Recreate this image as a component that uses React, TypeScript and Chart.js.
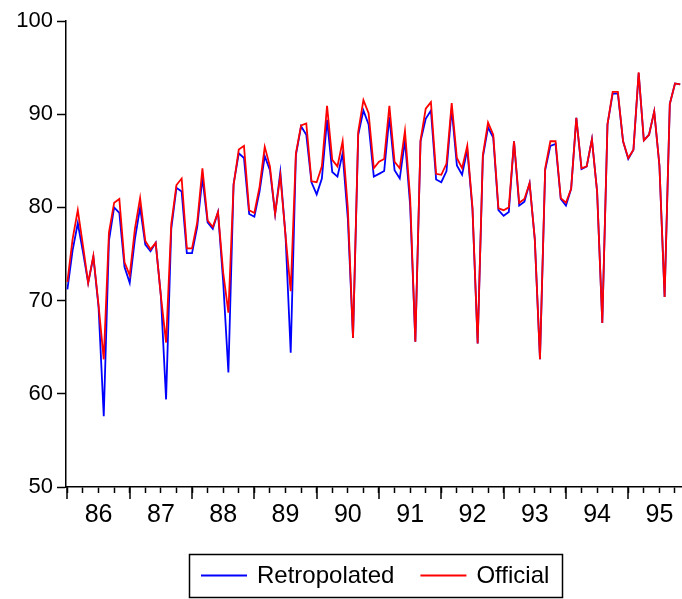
import React, { useEffect, useRef } from 'react';
import { Chart, registerables } from 'chart.js';

Chart.register(...registerables);

// ---- Data (monthly, 1986M01 .. 1995M11) ----
const yearLabels = ['86', '87', '88', '89', '90', '91', '92', '93', '94', '95'];

const retropolated = [
  // 1986
  71.2, 75.4, 78.3, 75.2, 71.9, 74.7, 69.3, 57.6, 76.4, 80.0, 79.4, 73.6,
  // 1987
  71.9, 76.6, 80.0, 76.0, 75.3, 76.2, 70.5, 59.4, 77.7, 82.1, 81.7, 75.1,
  // 1988
  75.1, 77.9, 83.2, 78.4, 77.7, 79.5, 72.0, 62.3, 82.5, 85.8, 85.3, 79.3,
  // 1989
  79.0, 81.7, 85.5, 84.0, 79.3, 83.8, 77.0, 64.4, 85.6, 88.7, 87.8, 82.7,
  // 1990
  81.4, 83.1, 89.4, 83.8, 83.3, 85.8, 78.8, 66.0, 87.8, 90.4, 88.9, 83.3,
  // 1991
  83.6, 83.9, 89.7, 84.0, 83.1, 87.2, 80.2, 65.6, 87.1, 89.5, 90.4, 83.0,
  // 1992
  82.7, 83.9, 90.6, 84.5, 83.5, 86.2, 79.8, 65.4, 85.4, 88.6, 87.5, 79.7,
  // 1993
  79.1, 79.5, 87.1, 80.2, 80.6, 82.6, 76.6, 63.7, 84.0, 86.6, 86.8, 80.9,
  // 1994
  80.2, 82.0, 89.6, 84.1, 84.4, 87.3, 81.7, 67.6, 88.9, 92.2, 92.2, 87.1,
  // 1995
  85.2, 86.2, 94.4, 87.2, 87.8, 90.3, 84.5, 70.4, 91.1, 93.3, 93.2,
];

const official = [
  // 1986
  72.0, 76.6, 79.7, 75.9, 71.9, 74.8, 69.5, 63.7, 77.3, 80.5, 80.9, 74.1,
  // 1987
  72.7, 77.7, 81.0, 76.4, 75.5, 76.2, 70.5, 65.5, 78.2, 82.4, 83.1, 75.6,
  // 1988
  75.6, 78.4, 84.2, 78.6, 77.9, 79.5, 73.0, 68.7, 82.4, 86.2, 86.6, 79.7,
  // 1989
  79.4, 82.2, 86.5, 84.4, 79.3, 83.4, 77.0, 71.0, 85.8, 88.8, 89.0, 82.8,
  // 1990
  82.7, 84.4, 90.9, 85.1, 84.4, 87.1, 79.9, 66.0, 88.1, 91.5, 90.1, 84.2,
  // 1991
  84.9, 85.2, 90.9, 84.9, 84.2, 88.2, 81.0, 65.6, 87.2, 90.6, 91.3, 83.6,
  // 1992
  83.5, 84.7, 91.2, 85.3, 84.2, 86.6, 80.0, 65.4, 85.6, 89.1, 87.8, 79.9,
  // 1993
  79.7, 80.0, 87.1, 80.5, 80.9, 82.6, 76.6, 63.7, 84.2, 87.1, 87.1, 81.0,
  // 1994
  80.5, 82.0, 89.6, 84.2, 84.4, 87.3, 81.7, 67.6, 88.9, 92.4, 92.4, 87.1,
  // 1995
  85.3, 86.2, 94.5, 87.2, 87.8, 90.3, 84.5, 70.4, 91.1, 93.3, 93.2,
];

const seriesNames = ['Retropolated', 'Official'];
const seriesColors = ['#0000FF', '#FF0000'];
const yTicks = [50, 60, 70, 80, 90, 100];

const FONT = '"Liberation Sans", Arial, Helvetica, sans-serif';

const toPoints = (arr: number[]) => arr.map((v, i) => ({ x: i, y: v }));

// Longer tick marks at year boundaries (drawn from the x scale)
const yearTickPlugin = {
  id: 'yearTicks',
  afterDraw(chart: any) {
    const { ctx, chartArea } = chart;
    const xs = chart.scales.x;
    ctx.save();
    ctx.strokeStyle = '#000';
    ctx.lineWidth = 1.5;
    for (let m = 0; m <= xs.max; m += 12) {
      const px = Math.round(xs.getPixelForValue(m));
      ctx.beginPath();
      ctx.moveTo(px, chartArea.bottom);
      ctx.lineTo(px, chartArea.bottom + 12);
      ctx.stroke();
    }
    ctx.restore();
  },
};

// Boxed legend below the plot
const boxLegendPlugin = {
  id: 'boxLegend',
  afterDraw(chart: any) {
    const { ctx, chartArea } = chart;
    ctx.save();
    ctx.font = `24px ${FONT}`;
    const items = chart.data.datasets.map((d: any) => ({
      text: d.label,
      color: d.borderColor,
      width: ctx.measureText(d.label).width,
    }));
    const padL = 12, lineLen = 46, gap = 10, itemGap = 26, padR = 13;
    let total = padL + padR;
    items.forEach((it: any, i: number) => {
      total += lineLen + gap + it.width + (i ? itemGap : 0);
    });
    const cx = (chartArea.left + chartArea.right) / 2 + 2.5;
    const left = Math.round(cx - total / 2);
    const top = Math.round(chartArea.bottom + 67);
    const h = 43;
    ctx.strokeStyle = '#000';
    ctx.lineWidth = 1.5;
    ctx.strokeRect(left + 0.5, top + 0.5, Math.round(total), h);
    let x = left + padL;
    const cy = top + h / 2;
    items.forEach((it: any, i: number) => {
      if (i) x += itemGap;
      ctx.strokeStyle = it.color;
      ctx.lineWidth = 1.8;
      ctx.beginPath();
      ctx.moveTo(x, cy);
      ctx.lineTo(x + lineLen, cy);
      ctx.stroke();
      x += lineLen + gap;
      ctx.fillStyle = '#000';
      ctx.textBaseline = 'middle';
      ctx.textAlign = 'left';
      ctx.fillText(it.text, x, cy + 1);
      x += it.width;
    });
    ctx.restore();
  },
};

export default function App() {
  const canvasRef = useRef<HTMLCanvasElement | null>(null);

  useEffect(() => {
    const canvas = canvasRef.current;
    if (!canvas) return;
    const n = official.length;
    const chart = new Chart(canvas, {
      type: 'line',
      data: {
        datasets: [
          {
            label: seriesNames[0],
            data: toPoints(retropolated),
            borderColor: seriesColors[0],
            backgroundColor: seriesColors[0],
            borderWidth: 1.8,
            pointRadius: 0,
            tension: 0,
            order: 1,
          },
          {
            label: seriesNames[1],
            data: toPoints(official),
            borderColor: seriesColors[1],
            backgroundColor: seriesColors[1],
            borderWidth: 1.8,
            pointRadius: 0,
            tension: 0,
            order: 0,
          },
        ],
      },
      options: {
        responsive: false,
        animation: false,
        devicePixelRatio: 1,
        layout: { padding: { top: 21, right: 0, left: 0, bottom: 0 } },
        plugins: {
          legend: { display: false },
          tooltip: { enabled: false },
        },
        scales: {
          x: {
            type: 'linear',
            min: -0.27,
            max: n - 1 + 0.2,
            afterBuildTicks: (scale: any) => {
              const t: any[] = [];
              for (let m = 0; m < n; m += 3) t.push({ value: m });
              scale.ticks = t;
            },
            afterFit: (scale: any) => {
              scale.height = 112;
            },
            grid: {
              display: true,
              drawOnChartArea: false,
              drawTicks: true,
              tickLength: 6,
              tickColor: '#000',
              tickWidth: 1.5,
            },
            border: { display: true, color: '#000', width: 1.5 },
            ticks: {
              autoSkip: false,
              maxRotation: 0,
              minRotation: 0,
              padding: 7,
              color: '#000',
              font: { family: FONT, size: 25 },
              callback: (value: any) => {
                const v = Number(value);
                return v % 12 === 6 ? yearLabels[(v - 6) / 12] : '';
              },
            },
          },
          y: {
            type: 'linear',
            min: 50,
            max: 100,
            afterBuildTicks: (scale: any) => {
              scale.ticks = yTicks.map((v) => ({ value: v }));
            },
            afterFit: (scale: any) => {
              scale.width = 66;
            },
            grid: {
              display: true,
              drawOnChartArea: false,
              drawTicks: true,
              tickLength: 9,
              tickColor: '#000',
              tickWidth: 1.5,
            },
            border: { display: true, color: '#000', width: 1.5 },
            ticks: {
              padding: 4,
              color: '#000',
              font: { family: FONT, size: 22 },
            },
          },
        },
      },
      plugins: [yearTickPlugin, boxLegendPlugin],
    });
    return () => chart.destroy();
  }, []);

  return (
    <div style={{ position: 'absolute', left: 0, top: 0, width: 682, height: 599, background: '#fff' }}>
      <canvas ref={canvasRef} width={682} height={599} style={{ display: 'block' }} />
    </div>
  );
}
